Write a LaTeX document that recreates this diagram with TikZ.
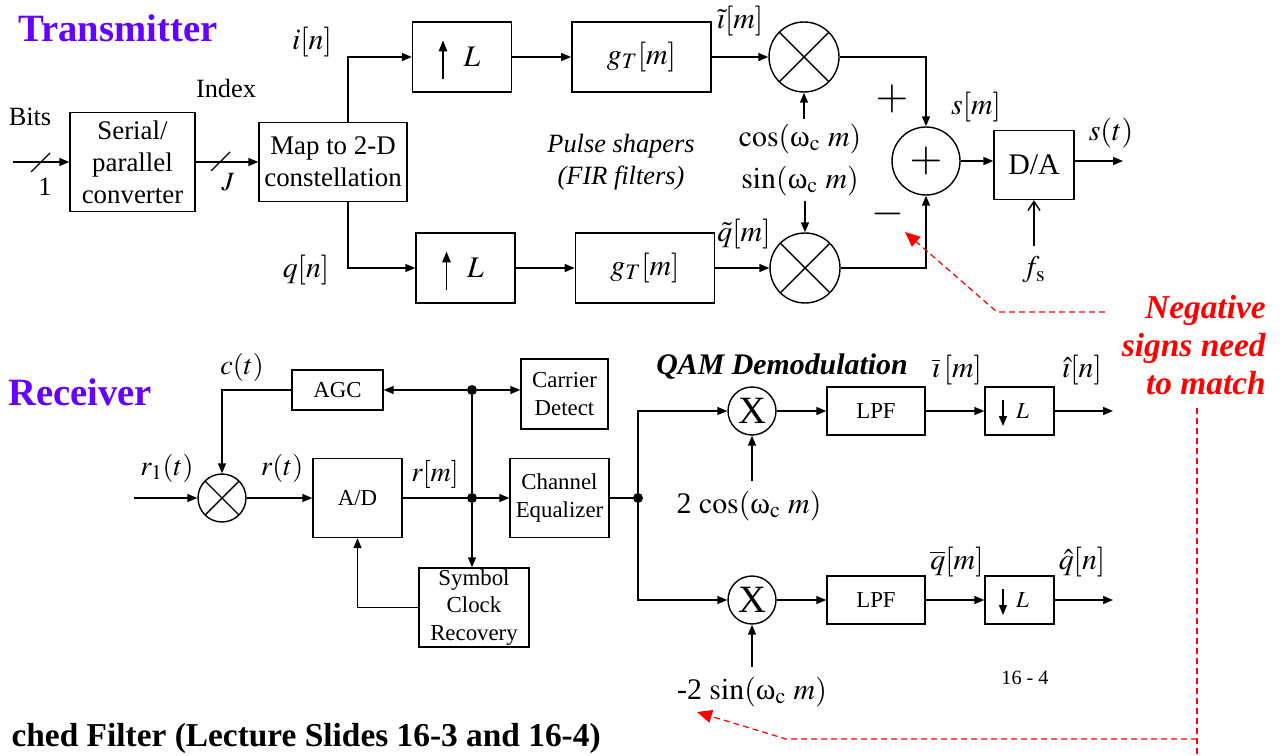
\documentclass[tikz,border=0pt]{standalone}
\usepackage{mathptmx}
\usepackage{fontspec}
\setmainfont{Liberation Serif}
\usepackage{tikz}
\usetikzlibrary{arrows.meta, positioning, calc}
\definecolor{titleviolet}{HTML}{6600FF}
\definecolor{notered}{HTML}{FF0000}
\newcommand{\wc}{\mbox{ω}_{\mathrm{c}}}

\begin{document}
\begin{tikzpicture}[x=0.02cm, y=-0.02cm,
  block/.style={rectangle, draw=black, line width=0.8pt, align=center, inner sep=1pt, font=\fontsize{15.3}{18.2}\selectfont},
  rxblock/.style={block, font=\fontsize{13}{15.6}\selectfont},
  filt/.style={block, minimum width=2.78cm, minimum height=1.4cm, font=\fontsize{17}{20}\selectfont},
  upbox/.style={block, minimum width=1.98cm, minimum height=1.4cm, font=\fontsize{17}{20}\selectfont,
    path picture={\draw[line width=0.8pt, -{Triangle[length=2.2mm,width=1.7mm]}] ([xshift=-0.38cm, yshift=-0.45cm]path picture bounding box.center) -- ++(0,0.78cm);}},
  dnbox/.style={rxblock, minimum width=1.38cm, minimum height=0.96cm,
    path picture={\draw[line width=0.8pt, -{Triangle[length=2mm,width=1.6mm]}] ([xshift=-0.33cm, yshift=0.22cm]path picture bounding box.center) -- ++(0,-0.52cm);}},
  mixer/.style={circle, draw=black, line width=0.8pt, minimum size=1.4cm, inner sep=0pt,
    path picture={\draw[line width=0.8pt] (path picture bounding box.north west) -- (path picture bounding box.south east)
      (path picture bounding box.north east) -- (path picture bounding box.south west);}},
  rxmix/.style={mixer, minimum size=0.96cm},
  demix/.style={circle, draw=black, line width=0.8pt, minimum size=0.96cm, inner sep=0pt, font=\fontsize{22}{22}\selectfont},
  sumnode/.style={circle, draw=black, line width=0.8pt, minimum size=1.36cm, inner sep=0pt, font=\fontsize{24}{24}\selectfont},
  dot/.style={circle, fill=black, minimum size=0.2cm, inner sep=0pt},
  txt/.style={inner sep=1pt, font=\fontsize{15}{18.2}\selectfont},
  sym/.style={inner sep=0pt, font=\fontsize{17}{20}\selectfont},
  rxsym/.style={inner sep=0pt, font=\fontsize{16}{19}\selectfont},
  sign/.style={inner sep=0pt, font=\fontsize{24}{24}\selectfont},
  title/.style={inner sep=0pt, text=titleviolet, font=\fontsize{22}{26}\selectfont\bfseries},
  note/.style={inner sep=0pt, align=right, text=notered, font=\fontsize{19}{21.5}\selectfont\bfseries\itshape},
  arrow/.style={line width=0.8pt, -{Triangle[length=2mm,width=1.6mm]}},
  openarrow/.style={line width=0.8pt, -{Straight Barb[length=1.8mm,width=2.4mm]}},
  plain/.style={line width=0.8pt},
  reddash/.style={notered, line width=0.7pt, dash pattern=on 0.12cm off 0.08cm},
  redarrow/.style={reddash, -{Triangle[length=3mm,width=2.6mm]}}
]
  \useasboundingbox (0,0) rectangle (1283,756);

  \node[title] (txtitle) at (118,28) {Transmitter};
  \node[txt] (bits) at (30,117) {Bits};
  \coordinate (bitsin) at (13,162);
  \node[txt] (one) at (45,187) {1};
  \node[block, minimum width=2.5cm, minimum height=1.98cm] (sp) at (132.5,162) {Serial/\\parallel\\converter};
  \node[txt] (index) at (226,88) {Index};
  \node[txt] (jlab) at (228,182) {$J$};
  \node[block, minimum width=2.96cm, minimum height=1.58cm] (map) at (333,162) {Map to 2-D\\constellation};

  \node[sym] (inl) at (312,42) {$i[n]$};
  \node[sym] (qnl) at (306,270) {$q[n]$};
  \node[upbox] (upI) at (462,57) {\hspace*{0.4cm}$L$};
  \node[filt, right=1.18cm of upI] (gI) {$g_T[m]$};
  \node[mixer] (mixI) at (804,57) {};
  \node[upbox] (upQ) at (465.5,268) {\hspace*{0.4cm}$L$};
  \node[filt, right=1.18cm of upQ] (gQ) {$g_T[m]$};
  \node[mixer] (mixQ) at (805,268) {};
  \node[sym] (itl) at (740,21) {$\tilde{\imath}[m]$};
  \node[sym] (qtl) at (744,234) {$\tilde{q}[m]$};
  \node[txt, align=center, font=\fontsize{15}{18.2}\selectfont\itshape] (pulse) at (621,162) {Pulse shapers\\(FIR filters)};
  \node[sym] (cosl) at (800,139) {$\cos(\wc\ m)$};
  \node[sym] (sinl) at (800,181) {$\sin(\wc\ m)$};

  \node[sumnode] (sum) at (926,161) {$+$};
  \node[sign] (plus) at (892,99) {$+$};
  \node[sign] (minus) at (888,214) {$-$};
  \node[sym] (sml) at (976,107) {$s[m]$};
  \node[block, minimum width=1.6cm, minimum height=1.38cm, font=\fontsize{17}{20}\selectfont] (da) at (1034,165) {D/A};
  \node[sym] (stl) at (1111,133) {$s(t)$};
  \coordinate (sout) at (1123,161);
  \node[sym] (fsl) at (1034,270) {$f_{\mathrm{s}}$};

  \draw[arrow] (bitsin) -- (sp.west);
  \draw[plain] (31,172) -- (50,153);
  \draw[arrow] (sp.east) -- (map.west);
  \draw[plain] (211,171) -- (230,152);
  \draw[arrow] ([xshift=0.3cm]map.north) |- (upI.west);
  \draw[arrow] ([xshift=0.3cm]map.south) |- (upQ.west);
  \draw[arrow] (upI.east) -- (gI.west);
  \draw[arrow] (gI.east) -- (mixI.west);
  \draw[arrow] (upQ.east) -- (gQ.west);
  \draw[arrow] (gQ.east) -- (mixQ.west);
  \draw[arrow] ([yshift=0.1cm]cosl.north -| mixI) -- (mixI.south);
  \draw[arrow] ([yshift=-0.1cm]sinl.south -| mixQ) -- (mixQ.north);
  \draw[arrow] (mixI.east) -| (sum.north);
  \draw[arrow] (mixQ.east) -| (sum.south);
  \draw[arrow] (sum.east) -- (sum.east -| da.west);
  \draw[arrow] (sum.east -| da.east) -- (sout);
  \draw[openarrow] ([yshift=0.2cm]fsl.north) -- (da.south);

  \node[note, anchor=east] (neg) at (1266,345) {Negative\\signs need\\to match};
  \coordinate (n1) at (1105,312);
  \coordinate (n2) at (997,312);
  \coordinate (t1) at (905,232);
  \coordinate (v1) at (1197,408);
  \coordinate (v2) at (1197,756);
  \coordinate (c1) at (1197,739);
  \coordinate (h1) at (786,739);
  \coordinate (t2) at (697,712);
  \draw[redarrow] (n1) -- (n2) -- (t1);
  \draw[reddash] (v1) -- (v2);
  \draw[redarrow] (c1) -- (h1) -- (t2);

  \node[title] (rxtitle) at (80,392) {Receiver};
  \node[rxsym] (r1l) at (167,468) {$r_1(t)$};
  \coordinate (r1in) at (134,498);
  \node[rxmix] (rmix) at (222,498) {};
  \node[rxsym] (cl) at (242,367) {$c(t)$};
  \node[rxblock, minimum width=1.82cm, minimum height=0.8cm] (agc) at (337.5,390) {AGC};
  \node[rxsym] (rtl) at (282,468) {$r(t)$};
  \node[rxblock, minimum width=1.78cm, minimum height=1.58cm] (ad) at (357.5,498) {A/D};
  \node[rxsym] (rml) at (435,474) {$r[m]$};
  \node[dot] (j1) at (472,390) {};
  \node[dot] (j2) at (472,498) {};
  \node[rxblock, minimum width=1.74cm, minimum height=1.4cm] (cd) at (564.5,394) {Carrier\\Detect};
  \node[rxblock, minimum width=1.98cm, minimum height=1.58cm] (ceq) at (559.5,498) {Channel\\Equalizer};
  \node[rxblock, minimum width=2.2cm, minimum height=1.58cm, inner sep=0pt] (scr) at (474,607.5) {Symbol\\Clock\\Recovery};
  \node[dot] (j3) at (638,498) {};

  \node[sym, font=\fontsize{17}{20}\selectfont\bfseries\itshape] (qam) at (782,367) {QAM Demodulation};
  \node[demix] (dx1) at (752,411) {X};
  \node[demix] (dx2) at (752,600) {X};
  \node[sym] (cos2) at (749,506) {2 $\cos(\wc\ m)$};
  \node[sym] (sin2) at (752,692) {-2 $\sin(\wc\ m)$};
  \node[rxblock, minimum width=1.96cm, minimum height=0.96cm] (lpf1) at (876,411) {LPF};
  \node[rxblock, minimum width=1.96cm, minimum height=0.96cm] (lpf2) at (876,600) {LPF};
  \node[dnbox] (dn1) at (1019.5,411) {\hspace*{0.12cm}$L$};
  \node[dnbox] (dn2) at (1019.5,600) {\hspace*{0.12cm}$L$};
  \coordinate (iout) at (1113,411);
  \coordinate (qout) at (1113,600);
  \node[sym] (ibl) at (957,370) {$\overline{\imath}\,[m]$};
  \node[sym] (ihl) at (1082,370) {$\hat{\imath}[n]$};
  \node[sym] (qbl) at (957,562) {$\overline{q}[m]$};
  \node[sym] (qhl) at (1082,562) {$\hat{q}[n]$};
  \node[txt, font=\fontsize{11.5}{14}\selectfont] (pg) at (1025,678) {16 - 4};

  \draw[arrow] (r1in) -- (rmix.west);
  \draw[arrow] (agc.west) -| (rmix.north);
  \draw[arrow] (rmix.east) -- (ad.west);
  \draw[plain] (ad.east) -- (j2);
  \draw[arrow] (j2) -- (ceq.west);
  \draw[arrow] (j1) -- (agc.east);
  \draw[arrow] (j1) -- (j1 -| cd.west);
  \draw[plain] (j1) -- (j2);
  \draw[arrow] (j2) -- (j2 |- scr.north);
  \draw[arrow] (scr.west) -| (ad.south);
  \draw[plain] (ceq.east) -- (j3);
  \draw[arrow] (j3) |- (dx1.west);
  \draw[arrow] (j3) |- (dx2.west);
  \draw[arrow] ([yshift=0.2cm]cos2.north -| dx1) -- (dx1.south);
  \draw[arrow] ([yshift=0.2cm]sin2.north -| dx2) -- (dx2.south);
  \draw[arrow] (dx1.east) -- (lpf1.west);
  \draw[arrow] (lpf1.east) -- (dn1.west);
  \draw[arrow] (dn1.east) -- (iout);
  \draw[arrow] (dx2.east) -- (lpf2.west);
  \draw[arrow] (lpf2.east) -- (dn2.west);
  \draw[arrow] (dn2.east) -- (qout);

  \node[inner sep=0pt, anchor=east, font=\fontsize{19}{22}\selectfont\bfseries] (foot) at (601,738) {ched Filter (Lecture Slides 16-3 and 16-4)};
\end{tikzpicture}
\end{document}
